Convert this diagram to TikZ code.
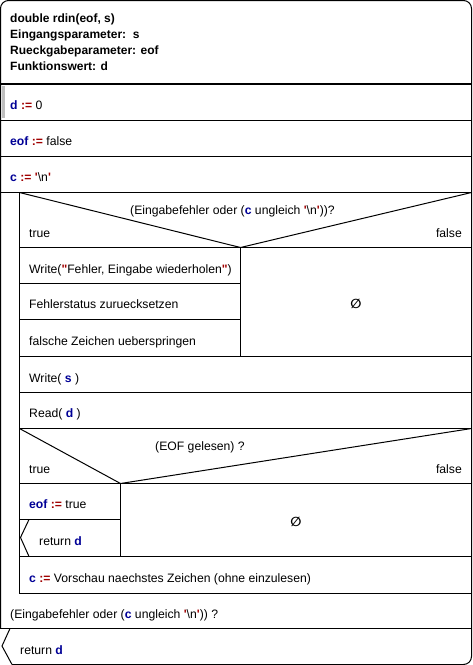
\documentclass[tikz,border=0pt]{standalone}
\usepackage{fontspec}
\setmainfont{Liberation Sans}[Ligatures=TeXOff]
\newfontfamily\symfont{DejaVu Sans}
\definecolor{vblue}{RGB}{0,0,150}
\definecolor{ored}{RGB}{160,0,0}
\newcommand{\vr}[1]{\textcolor{vblue}{\textbf{#1}}}
\newcommand{\asg}{\textcolor{ored}{\textbf{:=}}}
\newcommand{\sqt}{\textcolor{ored}{\textbf{'}}}
\newcommand{\dqt}{\textcolor{ored}{\textbf{"}}}
\begin{document}
\begin{tikzpicture}[x=1pt,y=-1pt,
  txt/.style={inner sep=0pt, text height=8.6pt, text depth=0pt, font=\fontsize{12.2}{14}\selectfont},
  lft/.style={txt, anchor=west},
  rgt/.style={txt, anchor=east},
  emp/.style={inner sep=0pt, font=\fontsize{13}{15}\selectfont\symfont\bfseries},
  ln/.style={line width=1pt}]
\useasboundingbox (0,0) rectangle (473,665);
% outer frame
\draw[ln, rounded corners=8] (0.5,628.5) -- (0.5,0.5) -- (471.5,0.5) -- (471.5,664.5) -- (12,664.5);
\draw[ln] (12,664.5) -- (2,646) -- (10,628.5);
% header
\node[lft, align=left, anchor=north west, text height=, text depth=, font=\fontsize{12}{16}\selectfont\bfseries] (hdr) at (10,14)
  {double rdin(eof, s)\\Eingangsparameter:\ \ s\\Rueckgabeparameter: eof\\Funktionswert: d};
\draw[line width=2pt] (0,84) -- (472,84);
\fill[gray!50] (2,86) rectangle (5,118);
% top statements
\draw[ln] (0,120.5) -- (472,120.5);
\draw[ln] (0,156.5) -- (472,156.5);
\draw[ln] (0,192.5) -- (472,192.5);
\node[lft] (s1) at (10,105) {\vr{d} \asg{} 0};
\node[lft] (s2) at (10,141) {\vr{eof} \asg{} false};
\node[lft] (s3) at (10,177) {\vr{c} \asg{} \sqt\textbackslash n\sqt};
% loop
\draw[ln] (19.5,192.5) -- (19.5,593.5) -- (472,593.5);
% first if
\draw[ln] (19.5,192.5) -- (240.5,247.5) -- (471.5,192.5);
\draw[ln] (19.5,247.5) -- (472,247.5);
\node[lft] (c1) at (130,210) {(Eingabefehler oder (\vr{c} ungleich \sqt\textbackslash n\sqt))?};
\node[lft] (t1) at (29,233) {true};
\node[rgt] (f1) at (462,233) {false};
\draw[ln] (19.5,283.5) -- (240.5,283.5);
\draw[ln] (19.5,319.5) -- (240.5,319.5);
\draw[ln] (240.5,247.5) -- (240.5,356.5);
\node[lft] (w1) at (29,269) {Write(\dqt Fehler, Eingabe wiederholen\dqt)};
\node[lft] (w2) at (29,304) {Fehlerstatus zuruecksetzen};
\node[lft] (w3) at (29,341) {falsche Zeichen ueberspringen};
\node[emp] (e1) at (356,304) {∅};
% write/read
\draw[ln] (19.5,356.5) -- (472,356.5);
\draw[ln] (19.5,392.5) -- (472,392.5);
\draw[ln] (19.5,428.5) -- (472,428.5);
\node[lft] (w4) at (29,378) {Write( \vr{s} )};
\node[lft] (r1) at (29,413) {Read( \vr{d} )};
% second if
\draw[ln] (19.5,428.5) -- (120.5,483.5) -- (471.5,428.5);
\draw[ln] (19.5,483.5) -- (472,483.5);
\node[lft] (c2) at (155,446) {(EOF gelesen) ?};
\node[lft] (t2) at (29,469) {true};
\node[rgt] (f2) at (462,469) {false};
\draw[ln] (19.5,519.5) -- (120.5,519.5);
\draw[ln] (120.5,483.5) -- (120.5,556.5);
\draw[ln] (29,519.5) -- (20.5,537.5) -- (29,556.5);
\node[lft] (a1) at (29,504) {\vr{eof} \asg{} true};
\node[lft] (a2) at (39,541) {return \vr{d}};
\node[emp] (e2) at (296,522) {∅};
\draw[ln] (19.5,556.5) -- (472,556.5);
\node[lft] (a3) at (29,578) {\vr{c} \asg{} Vorschau naechstes Zeichen (ohne einzulesen)};
% loop condition
\node[lft] (lc) at (10,614) {(Eingabefehler oder (\vr{c} ungleich \sqt\textbackslash n\sqt)) ?};
\draw[ln] (0,628.5) -- (472,628.5);
\node[lft] (rt) at (20,650) {return \vr{d}};
\end{tikzpicture}
\end{document}
